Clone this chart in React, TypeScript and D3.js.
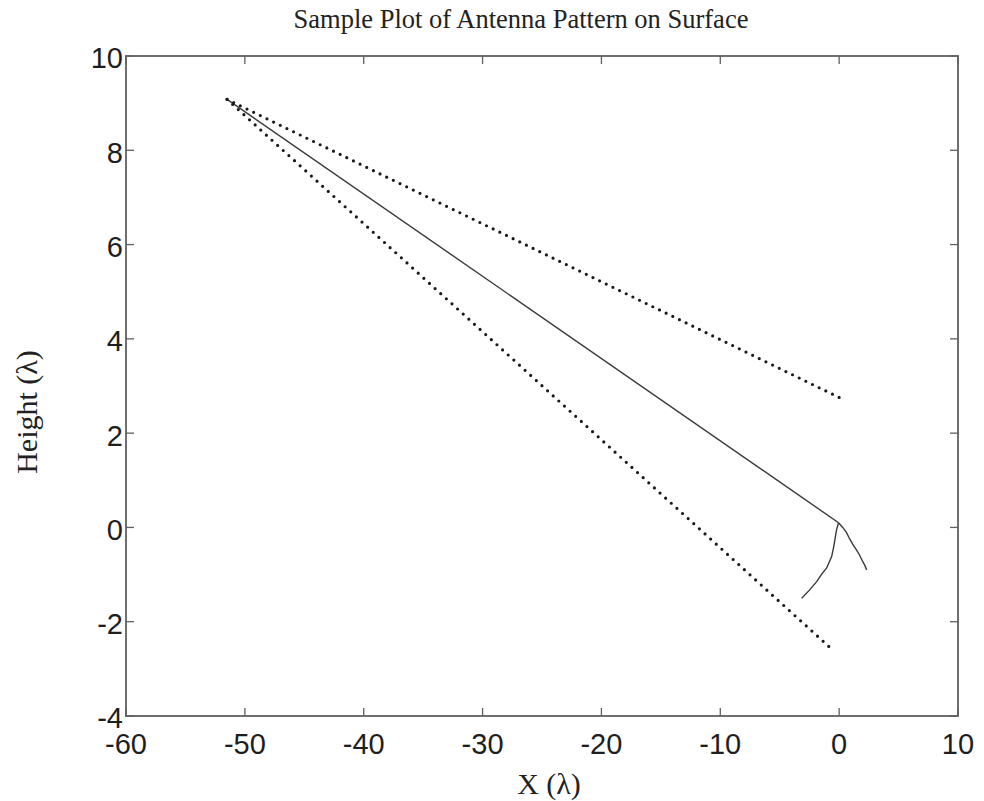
import React from "react";
import * as d3 from "d3";

const xTicks = [-60, -50, -40, -30, -20, -10, 0, 10];
const yTicks = [-4, -2, 0, 2, 4, 6, 8, 10];

// main beam direction (solid)
const beamX = [-51.5, -0.05];
const beamY = [9.08, 0.1];
// upper beam-width bound (dotted)
const upperX = [-51.5, 0.3];
const upperY = [9.08, 2.72];
// lower beam-width bound (dotted)
const lowerX = [-51.5, -0.63];
const lowerY = [9.08, -2.58];
// antenna pattern lobes near origin
const lobeLeftX = [-0.05, -0.22, -0.33, -0.45, -0.63, -1.05, -1.5, -1.89, -2.5, -3.15];
const lobeLeftY = [0.1, -0.05, -0.22, -0.4, -0.62, -0.86, -1.0, -1.15, -1.33, -1.5];
const lobeRightX = [-0.05, 0.3, 0.6, 0.9, 1.2, 1.47, 1.7, 1.92, 2.15, 2.32];
const lobeRightY = [0.1, 0.0, -0.1, -0.25, -0.38, -0.48, -0.58, -0.69, -0.8, -0.9];

const W = 984, H = 801;
const L = 126, R = 958, T = 56, B = 716;

export default function App() {
  const x = d3.scaleLinear().domain([-60, 10]).range([L, R]);
  const y = d3.scaleLinear().domain([-4, 10]).range([B, T]);
  const line = d3.line<[number, number]>().x(d => x(d[0])).y(d => y(d[1])).curve(d3.curveMonotoneX);
  const straight = d3.line<[number, number]>().x(d => x(d[0])).y(d => y(d[1]));
  const pts = (xs: number[], ys: number[]) => xs.map((v, i) => [v, ys[i]] as [number, number]);
  const axisColor = "#606060";
  const tickLen = 8;
  return (
    <svg width={W} height={H} style={{ position: "absolute", left: 0, top: 0, background: "#fff" }}>
      <rect x={0} y={0} width={W} height={H} fill="#fff" />
      <text x={521} y={28} textAnchor="middle" fontFamily="'Liberation Serif', 'Times New Roman', serif" fontSize={26.5} fill="#222">
        Sample Plot of Antenna Pattern on Surface
      </text>
      {/* box */}
      <rect x={L} y={T} width={R - L} height={B - T} fill="none" stroke={axisColor} strokeWidth={1.8} />
      {xTicks.map(t => (
        <g key={"x" + t}>
          <line x1={x(t)} x2={x(t)} y1={B} y2={B - tickLen} stroke={axisColor} strokeWidth={1.3} />
          <line x1={x(t)} x2={x(t)} y1={T} y2={T + tickLen} stroke={axisColor} strokeWidth={1.3} />
          <text x={x(t)} y={754} textAnchor="middle" fontFamily="'Liberation Sans', Arial, sans-serif" fontSize={29} fill="#1e1e1e">
            {t}
          </text>
        </g>
      ))}
      {yTicks.map(t => (
        <g key={"y" + t}>
          <line x1={L} x2={L + tickLen} y1={y(t)} y2={y(t)} stroke={axisColor} strokeWidth={1.3} />
          <line x1={R} x2={R - tickLen} y1={y(t)} y2={y(t)} stroke={axisColor} strokeWidth={1.3} />
          <text x={123} y={y(t) + 2} dy="0.36em" textAnchor="end" fontFamily="'Liberation Sans', Arial, sans-serif" fontSize={29} fill="#1e1e1e">
            {t}
          </text>
        </g>
      ))}
      <text x={549} y={794} textAnchor="middle" fontFamily="'Liberation Serif', 'Times New Roman', serif" fontSize={30} fill="#222">
        X (λ)
      </text>
      <text transform={`translate(37,412) rotate(-90)`} textAnchor="middle" fontFamily="'Liberation Serif', 'Times New Roman', serif" fontSize={30} fill="#222">
        Height (λ)
      </text>
      {/* data */}
      <path d={straight(pts(beamX, beamY)) || ""} fill="none" stroke="#3a3a3a" strokeWidth={1.4} />
      <path d={straight(pts(upperX, upperY)) || ""} fill="none" stroke="#1a1a1a" strokeWidth={3.2} strokeLinecap="round" strokeDasharray="0 7.4" />
      <path d={straight(pts(lowerX, lowerY)) || ""} fill="none" stroke="#1a1a1a" strokeWidth={3.2} strokeLinecap="round" strokeDasharray="0 7.6" />
      <path d={straight(pts(lobeLeftX, lobeLeftY)) || ""} fill="none" stroke="#3a3a3a" strokeWidth={1.4} />
      <path d={straight(pts(lobeRightX, lobeRightY)) || ""} fill="none" stroke="#3a3a3a" strokeWidth={1.4} />
    </svg>
  );
}
